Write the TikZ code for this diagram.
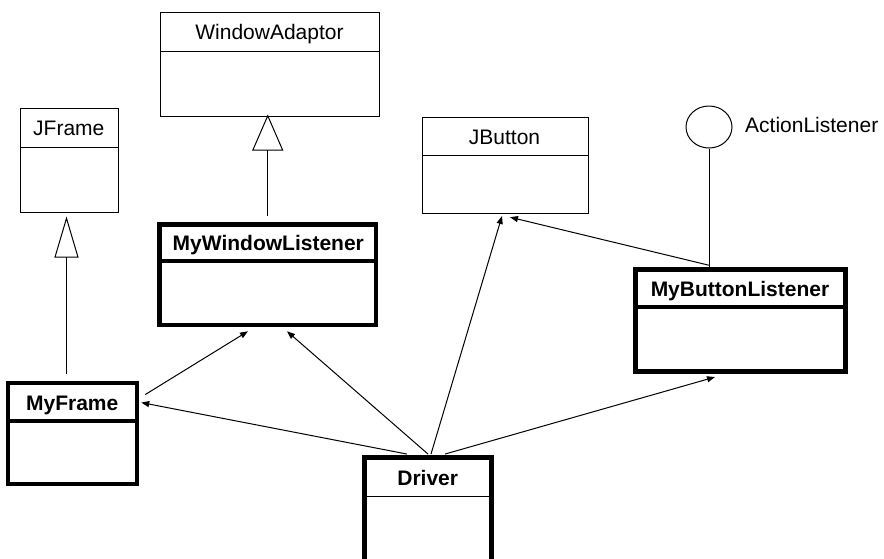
\documentclass[tikz,border=0pt]{standalone}
\usepackage{fontspec}
\setmainfont{Liberation Sans}
\usetikzlibrary{arrows.meta,fit,calc,shapes.geometric}
\begin{document}
\begin{tikzpicture}[x=1pt,y=-1pt,
  thinbox/.style={draw, line width=1pt, inner sep=0pt},
  thickbox/.style={draw, line width=4.5pt, inner sep=0pt},
  lbl/.style={font=\fontsize{21}{25}\selectfont, anchor=base, inner sep=0pt},
  blbl/.style={font=\fontsize{21}{25}\selectfont\bfseries, anchor=base, inner sep=0pt},
  thindiv/.style={line width=1pt},
  thickdiv/.style={line width=4pt},
  dep/.style={line width=1pt, -{Triangle[length=8pt,width=6pt]}},
  genA/.style={line width=1pt, -{Triangle[open,length=36pt,width=31pt]}},
  genB/.style={line width=1pt, -{Triangle[open,length=41pt,width=24pt]}},
]
\useasboundingbox (0,0) rectangle (884,558);
\clip (0,0) rectangle (884,558);
\fill[white] (0,0) rectangle (884,558);

% thin boxes
\node[thinbox, fit={(160,12) (379,116)}] (wa) {};
\draw[thindiv] (160,51) -- (379,51);
\node[lbl] (waT) at (269.5,39.3) {WindowAdaptor};

\node[thinbox, fit={(20,108) (118,212)}] (jf) {};
\draw[thindiv] (20,147) -- (118,147);
\node[lbl] (jfT) at (68.8,135) {JFrame};

\node[thinbox, fit={(422,117) (588,213)}] (jb) {};
\draw[thindiv] (422,155) -- (588,155);
\node[lbl] (jbT) at (504.5,144) {JButton};

% interface
\node[draw, ellipse, line width=1pt, minimum width=46pt, minimum height=42pt, inner sep=0pt] (al) at (709,127) {};
\node[lbl, anchor=base west] (alT) at (745,132.7) {ActionListener};

% thick boxes
\node[thickbox, fit={(159.5,224.5) (376,325)}] (mwl) {};
\draw[thickdiv] (159.5,260.5) -- (376,260.5);
\node[blbl] (mwlT) at (268.3,250) {MyWindowListener};

\node[thickbox, fit={(635.5,269.5) (845.5,371.3)}] (mbl) {};
\draw[thickdiv] (635.5,306.7) -- (845.5,306.7);
\node[blbl] (mblT) at (740,296) {MyButtonListener};

\node[thickbox, fit={(8,382.8) (137,483.8)}] (mf) {};
\draw[thickdiv] (8,421) -- (137,421);
\node[blbl] (mfT) at (72.2,410) {MyFrame};

\node[thickbox, fit={(364.7,457.3) (491.3,575)}] (drv) {};
\draw[thindiv] (364.7,496) -- (491.3,496);
\node[blbl] (drvT) at (427.7,485) {Driver};

% generalizations
\draw[genA] ([yshift=6.5pt]mwl.north) -- ([yshift=2pt]mwl.north |- wa.south);
\draw[genB] ([xshift=-6pt,yshift=6.8pt]mf.north) -- ([xshift=-6pt,yshift=-4pt]mf.north |- jf.south);

% interface realization
\draw[line width=1pt] (al.south) -- (al.south |- mbl.north);

% dependencies
\draw[dep] ([yshift=2pt]al.south |- mbl.north) -- ($(jb.south)+(5,3.7)$);
\draw[dep] ($(drv.north)+(3,-1)$) -- ($(jb.south)+(-3,2.5)$);
\draw[dep] ($(drv.north)+(17,-1)$) -- ($(mbl.south)+(-25.5,3.5)$);
\draw[dep] ($(drv.north)+(0,-1)$) -- ($(mwl.south)+(19.25,4)$);
\draw[dep] ($(drv.north)+(-21,-1)$) -- ($(mf.north east)+(2,22)$);
\draw[dep] ($(mf.north east)+(6,14)$) -- ($(mwl.south)+(-19.75,4)$);
\end{tikzpicture}
\end{document}
